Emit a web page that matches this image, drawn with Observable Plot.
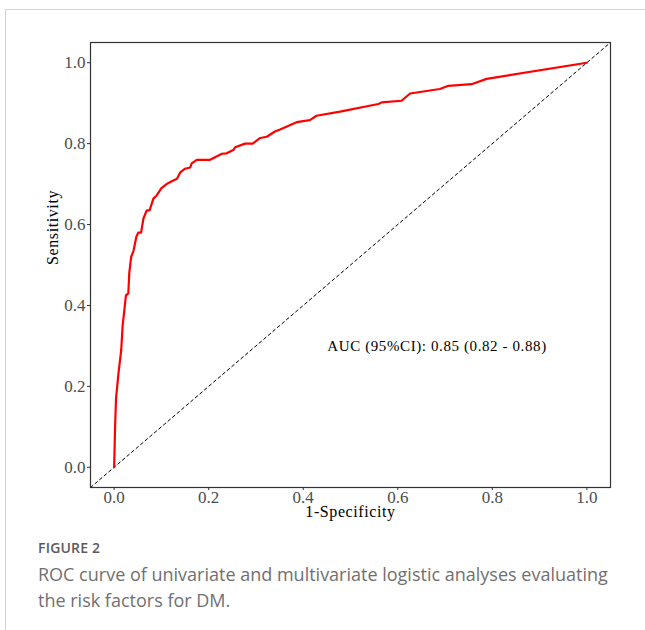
<!DOCTYPE html>
<html>
<head>
<meta charset="utf-8">
<script src="https://cdn.jsdelivr.net/npm/d3@7"></script>
<script src="https://cdn.jsdelivr.net/npm/@observablehq/plot@0.6"></script>
<style>
  html, body { margin: 0; padding: 0; background: #fff; }
  #page { position: relative; width: 645px; height: 630px; overflow: hidden; background: #fff; }
  #card { position: absolute; left: 5px; top: 9px; width: 660px; height: 640px;
          border-top: 1px solid #d4d4d4; border-left: 1px solid #d4d4d4; box-sizing: border-box; }
  #chart { position: absolute; left: 0; top: 0; }
  #chart svg text { letter-spacing: 0.6px; }
  #chart svg g[aria-label$="tick label"] { font-size: 17px; }
  #chart svg g[aria-label$="tick label"] text { letter-spacing: 0px; }
  #caption { position: absolute; left: 38px; top: 538px; width: 590px;
             font-family: "Open Sans", sans-serif; color: #707070; }
  #caption .fig { font-size: 14px; font-weight: 600; color: #5a5a5a; line-height: 20px; letter-spacing: 0.2px; }
  #caption .txt { font-size: 18px; line-height: 26px; margin-top: 3px; }
</style>
</head>
<body>
<div id="page">
  <div id="card"></div>
  <div id="chart"></div>
  <div id="caption">
    <div class="fig">FIGURE 2</div>
    <div class="txt">ROC curve of univariate and multivariate logistic analyses evaluating the risk factors for DM.</div>
  </div>
</div>
<script>
// ROC curve points (1-Specificity, Sensitivity)
const fpr = [0, 0.002, 0.004, 0.009, 0.015, 0.018, 0.025, 0.030, 0.032, 0.036, 0.041, 0.047, 0.051, 0.057,
  0.062, 0.069, 0.075, 0.083, 0.090, 0.100, 0.111, 0.122, 0.133, 0.140, 0.150, 0.161, 0.164, 0.175,
  0.203, 0.228, 0.238, 0.252, 0.256, 0.277, 0.293, 0.309, 0.323, 0.340, 0.351, 0.386, 0.414, 0.428,
  0.478, 0.559, 0.566, 0.608, 0.626, 0.689, 0.707, 0.756, 0.788, 1.0];
const tpr = [0, 0.10, 0.17, 0.23, 0.29, 0.35, 0.425, 0.43, 0.48, 0.52, 0.535, 0.57, 0.58, 0.58,
  0.615, 0.635, 0.635, 0.664, 0.672, 0.690, 0.700, 0.707, 0.713, 0.729, 0.738, 0.741, 0.751, 0.760,
  0.760, 0.775, 0.776, 0.784, 0.791, 0.800, 0.800, 0.814, 0.817, 0.830, 0.835, 0.853, 0.858, 0.869,
  0.879, 0.898, 0.902, 0.906, 0.924, 0.935, 0.943, 0.947, 0.960, 1.0];
const xTicks = [0, 0.2, 0.4, 0.6, 0.8, 1.0];
const yTicks = [0, 0.2, 0.4, 0.6, 0.8, 1.0];
const axisDomain = [-0.05, 1.05];
const diagonal = [-0.05, 1.05];
const aucLabel = ["AUC (95%CI): 0.85 (0.82 - 0.88)"];
const aucPos = [0.451, 0.30];
const xLabel = "1-Specificity";
const yLabel = "Sensitivity";

const roc = fpr.map((f, i) => ({x: f, y: tpr[i]}));
const diag = diagonal.map(v => ({x: v, y: v}));
const fmt = d3.format(".1f");

const chart = Plot.plot({
  width: 645,
  height: 530,
  marginLeft: 90,
  marginRight: 35,
  marginTop: 42,
  marginBottom: 43,
  style: {fontFamily: "'Liberation Serif', 'Times New Roman', serif", background: "transparent"},
  x: {domain: axisDomain},
  y: {domain: axisDomain},
  marks: [
    Plot.line(diag, {x: "x", y: "y", stroke: "#000", strokeWidth: 1, strokeDasharray: "3,3"}),
    Plot.line(roc, {x: "x", y: "y", stroke: "#ff0000", strokeWidth: 2.2, strokeLinejoin: "round"}),
    Plot.frame({stroke: "#333", strokeWidth: 1.2}),
    Plot.axisX({ticks: xTicks, tickFormat: fmt, tickSize: 3, tickPadding: 0, label: null,
      fontSize: 17, stroke: "#333", fill: "#4d4d4d"}),
    Plot.axisY({ticks: yTicks, tickFormat: fmt, tickSize: 3, tickPadding: 2, label: null,
      fontSize: 17, stroke: "#333", fill: "#4d4d4d"}),
    Plot.text(aucLabel, {x: () => aucPos[0], y: () => aucPos[1], text: d => d, textAnchor: "start",
      fontSize: 15, fill: "#000"}),
    Plot.text([xLabel], {frameAnchor: "bottom", dy: 29, text: d => d, fontSize: 16, fill: "#000"}),
    Plot.text([yLabel], {frameAnchor: "left", dx: -38, rotate: -90, text: d => d, fontSize: 16, fill: "#000"})
  ]
});
document.getElementById("chart").appendChild(chart);
</script>
</body>
</html>
